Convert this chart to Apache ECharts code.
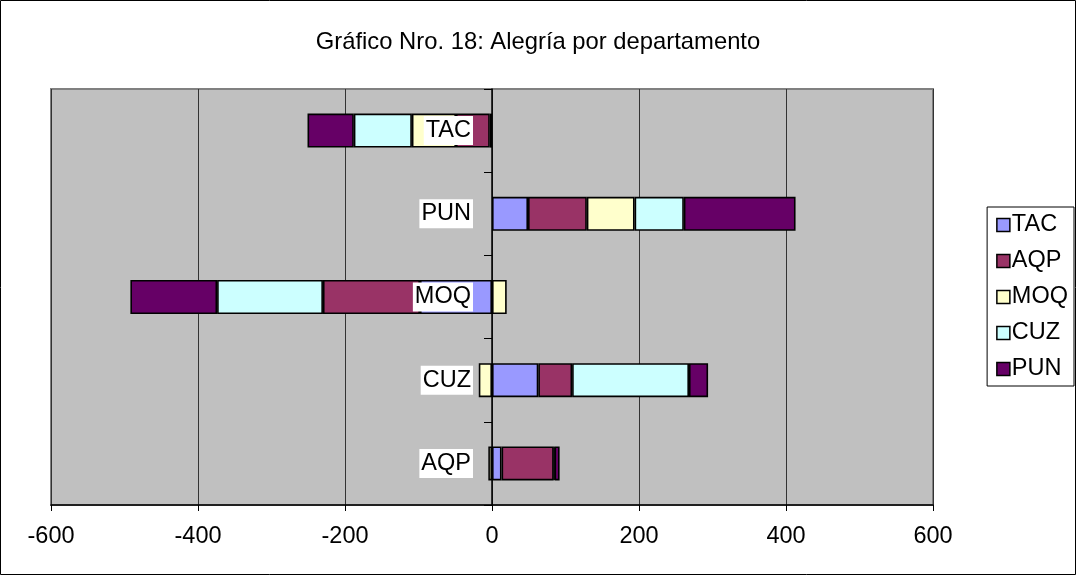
<!DOCTYPE html>
<html>
<head>
<meta charset="utf-8">
<script src="https://cdn.jsdelivr.net/npm/echarts@6/dist/echarts.min.js"></script>
<style>
  html, body { margin: 0; padding: 0; background: #fff; }
  #chart { width: 1076px; height: 575px; }
</style>
</head>
<body>
<div id="chart"></div>
<script>
// categories on the vertical axis, bottom to top
const departments = ['AQP', 'CUZ', 'MOQ', 'PUN', 'TAC'];
const xTicks = [-600, -400, -200, 0, 200, 400, 600];

// one array per series, values in the order of departments
const tacValues = [13, 63, -98, 49, -3];
const aqpValues = [71, 46, -132, 80, -46];
const moqValues = [-5, -18, 20, 65, -60];
const cuzValues = [1, 159, -144, 67, -79];
const punValues = [7, 26, -118, 152, -63];

const seriesNames = ['TAC', 'AQP', 'MOQ', 'CUZ', 'PUN'];
const seriesValues = [tacValues, aqpValues, moqValues, cuzValues, punValues];
const colors = ['#9999FF', '#993366', '#FFFFCC', '#CCFFFF', '#660066'];

const font = 'Arial, "Liberation Sans", sans-serif';

const chart = echarts.init(document.getElementById('chart'));

// bars, stacked; negatives stack to the left of 0
const barSeries = seriesNames.map((name, i) => ({
    name: name,
    type: 'bar',
    stack: 'total',
    barWidth: 34,
    data: seriesValues[i],
    itemStyle: { borderColor: '#000', borderWidth: 1.6 }
}));

// category names sit next to the axis at x = 0, on top of the bars
const labelSeries = {
    name: 'labels',
    type: 'scatter',
    symbolSize: 0,
    silent: true,
    z: 10,
    data: departments.map(d => [0, d]),
    itemStyle: { opacity: 1 },
    label: {
        show: true,
        position: 'left',
        distance: 19,
        opacity: 1,
        formatter: p => p.value[1],
        fontFamily: font,
        fontSize: 23.5,
        color: '#000',
        backgroundColor: '#fff',
        padding: [3, 2, 2, 2]
    }
};

const option = {
    animation: false,
    color: colors,
    title: {
        text: 'Gráfico Nro. 18: Alegría por departamento',
        left: 'center',
        top: 25,
        textStyle: { fontFamily: font, fontSize: 23.8, fontWeight: 'normal', color: '#000' }
    },
    legend: {
        orient: 'vertical',
        right: 2,
        top: 207,
        padding: [6, 6, 5, 9],
        itemGap: 12,
        itemWidth: 13,
        itemHeight: 13,
        icon: 'rect',
        borderColor: '#000',
        borderWidth: 1,
        itemStyle: { borderColor: '#000', borderWidth: 1.5 },
        textStyle: { fontFamily: font, fontSize: 23.5, color: '#000', lineHeight: 24, padding: [0, 0, 0, -3] },
        data: seriesNames
    },
    grid: {
        left: 51,
        right: 143,
        top: 89,
        bottom: 70,
        outerBoundsMode: 'none',
        containLabel: false,
        show: true,
        backgroundColor: '#C0C0C0',
        borderColor: '#808080',
        borderWidth: 2
    },
    xAxis: {
        type: 'value',
        min: xTicks[0],
        max: xTicks[xTicks.length - 1],
        interval: 200,
        axisLine: { show: true, lineStyle: { color: '#000', width: 1.5 } },
        axisTick: { show: true, length: 6, lineStyle: { color: '#000' } },
        axisLabel: { fontFamily: font, fontSize: 23.5, color: '#000', margin: 20 },
        splitLine: { show: true, lineStyle: { color: '#333', width: 1 } }
    },
    yAxis: {
        type: 'category',
        data: departments,
        axisLine: { show: true, onZero: true, lineStyle: { color: '#000', width: 1.5 } },
        axisTick: { show: true, length: 8, lineStyle: { color: '#000' } },
        axisLabel: { show: false },
        splitLine: { show: false }
    },
    series: barSeries.concat([labelSeries]),
    graphic: [{
        type: 'rect',
        shape: { x: 0.5, y: 0.5, width: 1075, height: 574 },
        style: { fill: 'none', stroke: '#000', lineWidth: 1 },
        silent: true
    }]
};

chart.setOption(option);
</script>
</body>
</html>
